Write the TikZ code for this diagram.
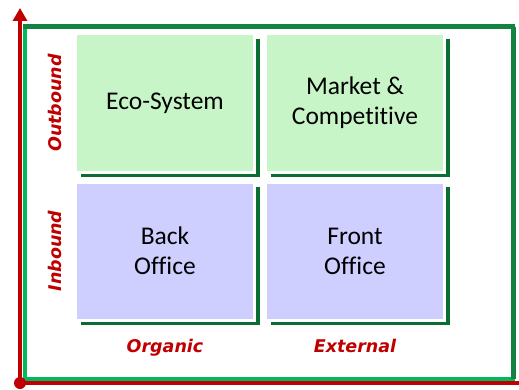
\documentclass[tikz,border=0pt]{standalone}
\usepackage{fontspec}
\setmainfont{Carlito}[Ligatures=NoCommon]
\newfontfamily\labelfont{DejaVu Sans}
\definecolor{axisred}{RGB}{192,0,0}
\definecolor{framegreen}{RGB}{0,185,95}
\definecolor{framedark}{RGB}{20,130,65}
\definecolor{shadegreen}{RGB}{10,110,50}
\definecolor{paleleaf}{RGB}{200,245,200}
\definecolor{palelilac}{RGB}{206,206,255}
\usetikzlibrary{arrows.meta, positioning, shadows}

\begin{document}
\begin{tikzpicture}[x=1pt,y=1pt,font=\fontsize{25.5}{30}\selectfont,
    quad/.style={draw=white,line width=3pt,minimum width=179pt,minimum height=138pt,
                 align=center,drop shadow={shadow xshift=5pt,shadow yshift=-5pt,
                 fill=shadegreen,opacity=1}},
    axislabel/.style={text=axisred,font=\labelfont\bfseries\itshape\fontsize{17.5}{20}\selectfont},
    axis/.style={draw=axisred,line width=4pt}]
  \useasboundingbox (0,0) rectangle (519,389);
  \draw[framegreen,line width=4pt] (25,10) rectangle (513,362);
  \draw[framedark,line width=5pt] (23,362) -- (515,362) (513,362) -- (513,10);
  \node[quad,fill=paleleaf] (eco) at (165,286) {Eco-System};
  \node[quad,fill=paleleaf,right=8pt of eco] (market) {Market \&\\Competitive};
  \node[quad,fill=palelilac,below=7pt of eco] (back) {Back\\Office};
  \node[quad,fill=palelilac,below=7pt of market] (front) {Front\\Office};
  \node[axislabel,left=9pt of eco,rotate=90,anchor=south] (outbound) {Outbound};
  \node[axislabel,left=9pt of back,rotate=90,anchor=south] (inbound) {Inbound};
  \node[axislabel,below=14pt of back] (organic) {Organic};
  \node[axislabel,below=14pt of front] (external) {External};
  \coordinate (origin) at (20,6);
  \coordinate (ytop) at (20,381);
  \coordinate (xend) at (519,6);
  \draw[axis,-{Triangle[width=14pt,length=13pt]}] (origin) -- (ytop);
  \draw[axis] (origin) -- (xend);
  \fill[axisred] (origin) circle (6pt);
\end{tikzpicture}
\end{document}
